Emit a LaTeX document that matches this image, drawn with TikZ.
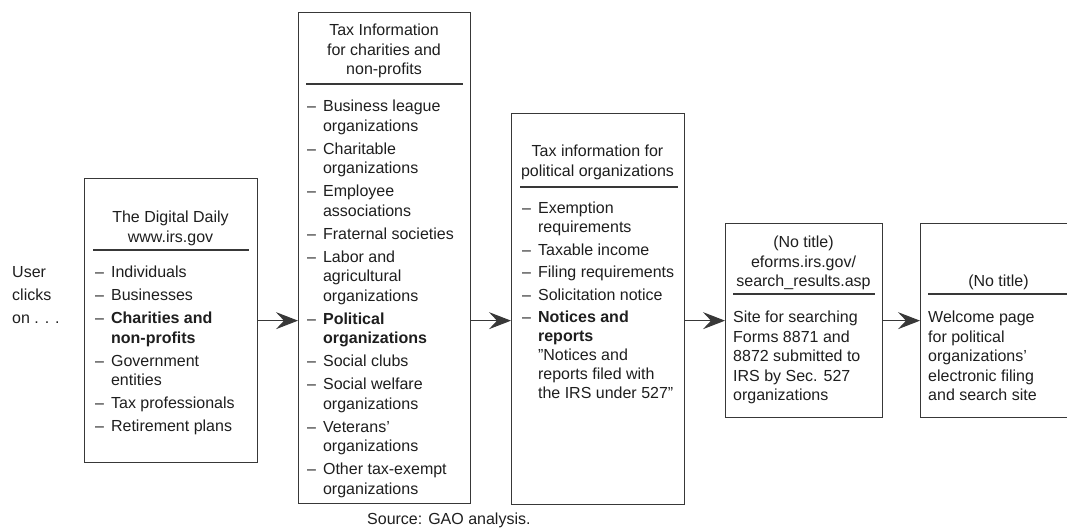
\documentclass[tikz,border=0pt]{standalone}
\usepackage{fontspec}
\setmainfont{Liberation Sans}
\usetikzlibrary{arrows.meta}
\definecolor{ink}{HTML}{1E1E1E}
\definecolor{edge}{HTML}{383838}
\newcommand{\dashlist}[1]{\begin{tabular}{@{}l@{\hspace{7pt}}l@{}}#1\end{tabular}}
\newcommand{\plainlines}[1]{\begin{tabular}{@{}l@{}}#1\end{tabular}}
\newcommand{\centerlines}[1]{\begin{tabular}{@{}c@{}}#1\end{tabular}}
\newcommand{\sq}{{\char34}}
\begin{document}
\begin{tikzpicture}[x=1pt,y=-1pt,
  pagebox/.style={draw=edge, line width=1.3pt, inner sep=0pt, anchor=north west},
  divline/.style={draw=edge, line width=1.3pt},
  txt/.style={inner sep=0pt, text=ink, font=\fontsize{16}{19.5}\selectfont},
  txttight/.style={inner sep=0pt, text=ink, font=\fontsize{16}{19}\selectfont},
  arr/.style={draw=edge, line width=1.1pt, -{Stealth[length=22pt,width=17pt,inset=8pt]}}]
\useasboundingbox (0,0) rectangle (1067,531);
\clip (0,0) rectangle (1067,531);

% boxes
\node[pagebox, minimum width=173pt, minimum height=284pt] (b1) at (84,178) {};
\node[pagebox, minimum width=172pt, minimum height=491pt] (b2) at (298,12) {};
\node[pagebox, minimum width=173pt, minimum height=391pt] (b3) at (511,113) {};
\node[pagebox, minimum width=157pt, minimum height=194pt] (b4) at (725,223) {};
\node[pagebox, minimum width=157pt, minimum height=194pt] (b5) at (920,223) {};

% dividers
\draw[divline] ([shift={(9,72)}]b1.north west) -- ([shift={(-9,72)}]b1.north east);
\draw[divline] ([shift={(8,72)}]b2.north west) -- ([shift={(-8,72)}]b2.north east);
\draw[divline] ([shift={(9,74)}]b3.north west) -- ([shift={(-7,74)}]b3.north east);
\draw[divline] ([shift={(8,71)}]b4.north west) -- ([shift={(-8,71)}]b4.north east);
\draw[divline] ([shift={(8,71)}]b5.north west) -- ([shift={(-8,71)}]b5.north east);

% titles
\node[txt, anchor=north] (t1) at (170.5,209) {\centerlines{The Digital Daily\\www.irs.gov}};
\node[txt, anchor=north] (t2) at (384,22) {\centerlines{Tax Information\\for charities and\\non-profits}};
\node[txt, anchor=north] (t3) at (597.5,143) {\centerlines{Tax information for\\political organizations}};
\node[txt, anchor=north] (t4) at (803.5,234) {\centerlines{(No title)\\eforms.irs.gov/\\search\_results.asp}};
\node[txt, anchor=north] (t5) at (998.5,273) {\centerlines{(No title)}};

% bodies
\node[txt, anchor=north west] (l1) at (95,264) {\dashlist{%
– & Individuals\\[3.5pt]
– & Businesses\\[3.5pt]
– & \textbf{Charities and}\\
  & \textbf{non-profits}\\[3.5pt]
– & Government\\
  & entities\\[3.5pt]
– & Tax professionals\\[3.5pt]
– & Retirement plans}};

\node[txt, anchor=north west] (l2) at (307,98) {\dashlist{%
– & Business league\\
  & organizations\\[3.5pt]
– & Charitable\\
  & organizations\\[3.5pt]
– & Employee\\
  & associations\\[3.5pt]
– & Fraternal societies\\[3.5pt]
– & Labor and\\
  & agricultural\\
  & organizations\\[3.5pt]
– & \textbf{Political}\\
  & \textbf{organizations}\\[3.5pt]
– & Social clubs\\[3.5pt]
– & Social welfare\\
  & organizations\\[3.5pt]
– & Veterans’\\
  & organizations\\[3.5pt]
– & Other tax-exempt\\
  & organizations}};

\node[txttight, anchor=north west] (l3) at (522,200) {\dashlist{%
– & Exemption\\
  & requirements\\[3.5pt]
– & Taxable income\\[3.5pt]
– & Filing requirements\\[3.5pt]
– & Solicitation notice\\[3.5pt]
– & \textbf{Notices and}\\
  & \textbf{reports}\\
  & \sq Notices and\\
  & reports filed with\\
  & the IRS under 527\sq}};

\node[txt, anchor=north west] (l4) at (733,309) {\plainlines{%
Site for searching\\
Forms 8871 and\\
8872 submitted to\\
IRS by Sec. 527\\
organizations}};

\node[txt, anchor=north west] (l5) at (928,309) {\plainlines{%
Welcome page\\
for political\\
organizations’\\
electronic filing\\
and search site}};

% left label
\node[txt, anchor=north west] (user) at (12,264) {\plainlines{User\\[3.5pt]clicks\\[3.5pt]on . . .}};

% source
\node[txt, anchor=base west] (src) at (367,524) {Source: GAO analysis.};

% connectors
\draw[arr] (b1.east) -- (b1.east -| b2.west);
\draw[arr] (b1.east -| b2.east) -- (b1.east -| b3.west);
\draw[arr] (b1.east -| b3.east) -- (b4.west);
\draw[arr] (b4.east) -- (b5.west);
\end{tikzpicture}
\end{document}
